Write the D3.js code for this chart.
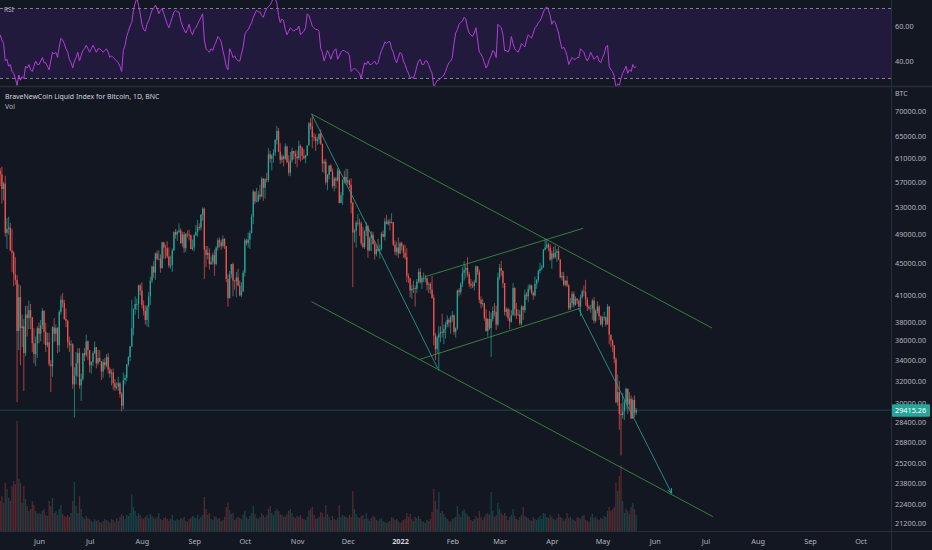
<!DOCTYPE html>
<html>
<head>
  <meta charset="utf-8">
  <title>BraveNewCoin Liquid Index for Bitcoin, 1D</title>
  <script src="https://cdn.jsdelivr.net/npm/d3@7"></script>
  <style>
    html, body { margin: 0; padding: 0; background: #131722; overflow: hidden; }
    svg { display: block; font-family: "Noto Sans", Roboto, sans-serif; }
  </style>
</head>
<body>
<script>
  // ---- data (daily, first candle 2021-05-09) ----
  const firstDay = "2021-05-09";
  const firstOpen = 58800;

  const closes = [
    // May 2021
    58200, 55800, 56700, 49150, 49700, 49900, 46700, 46400, 43600, 42900, 37000, 40800, 37300, 37500, 34700, 38800, 38400, 39300, 38500, 35700, 34600, 35700, 37300,
    // Jun
    36700, 37600, 39200, 36900, 35500, 35800, 33600, 33400, 37400, 36700, 37300, 35500, 39100, 40500, 40100, 38300, 38100, 35800, 35500, 35600, 31700, 32500, 33700, 34700, 31600, 32200, 34700, 34500, 35900, 35000,
    // Jul
    33500, 33800, 34700, 35300, 33700, 34200, 33900, 32900, 33800, 33500, 34300, 33100, 32700, 32800, 31800, 31400, 31500, 31800, 30800, 29800, 32100, 32300, 33600, 34300, 35400, 37300, 39400, 40000, 40000, 42200, 41600,
    // Aug
    39900, 39200, 38200, 39700, 40900, 42800, 44600, 43800, 46300, 45600, 45600, 44400, 47800, 47100, 47000, 45900, 44700, 44800, 46700, 49300, 48900, 49300, 49500, 47700, 48900, 47000, 49000, 48900, 48800, 46900, 47100,
    // Sep
    48800, 49300, 50000, 49900, 51800, 52700, 46800, 46100, 46400, 44900, 45200, 46100, 44900, 47100, 48100, 47800, 47300, 48300, 47300, 43000, 40700, 43600, 44900, 42800, 42700, 43200, 42200, 41000, 41500, 43800,
    // Oct
    48100, 47700, 48200, 49100, 51500, 55400, 53800, 53900, 54900, 54600, 57500, 56000, 57400, 57300, 61700, 60900, 61500, 62000, 64300, 66000, 62200, 60700, 61300, 60900, 63100, 60300, 58500, 60600, 62300, 61800, 61300,
    // Nov
    61000, 63200, 62900, 61400, 61000, 61500, 63300, 67500, 66900, 64900, 64800, 64100, 64400, 65500, 63600, 60100, 60400, 56900, 58100, 59700, 58700, 56300, 57500, 57200, 58900, 53600, 54800, 57300, 57800, 56900,
    // Dec
    57200, 56500, 53600, 49200, 49400, 50600, 50600, 50500, 47700, 47200, 49400, 50100, 46700, 48400, 48900, 47600, 46200, 46900, 46700, 46900, 49000, 48600, 50800, 50400, 50800, 50600, 50700, 47500, 46500, 47100, 46300,
    // Jan 2022
    47700, 47300, 46400, 45800, 43400, 43100, 41600, 41800, 41900, 41800, 42700, 43900, 42600, 43100, 43100, 43100, 42300, 42400, 41700, 40700, 36500, 35100, 36300, 36700, 36900, 36800, 37200, 37700, 38200, 37900, 38500,
    // Feb
    38700, 36900, 37300, 41600, 41400, 42400, 43800, 44100, 44400, 43600, 42400, 42200, 42100, 42600, 44600, 43900, 40500, 40000, 40100, 38400, 37000, 38300, 37300, 38300, 39200, 39100, 37700, 43200,
    // Mar
    44400, 44000, 42500, 39100, 39400, 38400, 38000, 38700, 41900, 39400, 38700, 38800, 37800, 39700, 39300, 41100, 40900, 41800, 42200, 41300, 41000, 42400, 42900, 44000, 44300, 44500, 46800, 47100, 47500, 47100, 45500,
    // Apr
    46300, 45800, 46400, 46600, 45500, 43200, 43400, 42300, 42800, 42200, 39500, 40100, 41200, 39900, 40600, 40400, 39700, 40800, 41500, 41400, 40500, 39700, 39500, 39500, 40400, 38100, 39200, 39700, 38600, 37700,
    // May 2022
    38500, 38500, 37700, 39700, 36600, 36000, 35500, 34100, 30100, 31000, 29100, 29000, 29300, 30100, 31300, 29900, 30400, 28700, 30300, 29200, 29415.26
  ];

  const highs = [
    59300, 59500, 57000, 58000, 51300, 51500, 50600, 49700, 46600, 45800, 43500, 42400, 42200, 38800, 38300, 39800, 39800, 40400, 40000, 38200, 37300, 36400, 37500,
    37900, 38200, 39500, 39300, 37900, 36800, 36800, 34000, 37500, 38400, 37700, 37400, 39300, 41000, 41300, 40500, 39500, 38200, 36400, 36000, 35700, 33300, 34800, 35200, 35200, 32700, 34700, 35200, 36600, 36000,
    35000, 33900, 34900, 35900, 35300, 35000, 35000, 33900, 34100, 34200, 34600, 34700, 33300, 33100, 33200, 32200, 31900, 32400, 31900, 31000, 32800, 32600, 33600, 34400, 35400, 40500, 39500, 40900, 40600, 42300, 42400,
    42600, 40400, 39800, 39900, 41400, 43300, 44700, 45300, 46400, 46700, 46700, 46200, 47900, 47900, 47500, 48000, 47100, 46000, 47000, 49300, 49700, 49500, 50500, 49800, 49300, 49300, 49100, 49500, 49600, 48900, 48200,
    49000, 50300, 51000, 50500, 51900, 52900, 52900, 47300, 47300, 47000, 45900, 46400, 46800, 47300, 48400, 48500, 48200, 48800, 48400, 47300, 43600, 44000, 44900, 45100, 42900, 43900, 44300, 42800, 42600, 44100,
    48400, 48300, 49200, 49500, 51900, 55700, 55300, 56000, 55500, 56500, 57800, 57600, 57600, 58500, 62800, 62300, 61700, 62600, 64500, 67000, 66600, 63700, 61700, 61500, 63700, 63300, 61500, 62100, 62900, 62300, 62400,
    62400, 64200, 63500, 63100, 62600, 61600, 63300, 67700, 68500, 68900, 65600, 65400, 64900, 65500, 66300, 63600, 60800, 60900, 58300, 59800, 60000, 59200, 57800, 57800, 59300, 59100, 55300, 57400, 58800, 59200,
    59100, 57400, 57600, 53800, 49700, 50900, 51900, 51200, 50800, 50000, 49500, 50700, 50300, 48600, 49400, 49300, 48000, 47300, 48300, 47500, 49300, 49500, 51300, 51800, 51100, 51200, 52000, 50700, 48100, 47900, 48500,
    47900, 47900, 47500, 47500, 47000, 43700, 43100, 42300, 42800, 42200, 43000, 44300, 44400, 43400, 43800, 43500, 43200, 42600, 42600, 43400, 41100, 36800, 36500, 37500, 37500, 38900, 37700, 38000, 38700, 38400, 38700,
    39200, 38800, 37400, 41700, 41900, 42600, 44500, 45300, 44800, 45800, 43900, 43000, 42700, 42900, 44700, 44600, 44200, 40900, 40600, 40100, 39400, 38400, 39200, 39000, 39700, 40100, 39800, 43800,
    44900, 45300, 44100, 42500, 39600, 39600, 39400, 39300, 42500, 42000, 40100, 39400, 39300, 39900, 39800, 41700, 41400, 42300, 42400, 42300, 41500, 43300, 43000, 44200, 45100, 44800, 46900, 48200, 48100, 47700, 47600,
    46700, 47200, 47400, 46900, 47200, 45500, 43900, 43900, 42800, 43400, 42400, 40700, 41500, 41500, 40900, 40700, 40500, 41100, 41700, 42200, 42900, 40800, 39900, 39900, 40600, 40800, 39400, 40300, 39900, 38700,
    38600, 39100, 38600, 40000, 39800, 36600, 36100, 35500, 34300, 32600, 32000, 30000, 30900, 30300, 31400, 31300, 31000, 30700, 30500, 30700, 29600
  ];

  const lows = [
    56300, 53500, 54000, 48600, 46900, 48900, 46600, 43900, 42100, 42300, 30100, 35000, 33500, 35300, 31100, 34400, 36400, 37200, 37200, 34800, 33700, 33400, 34200,
    35700, 35900, 37200, 35600, 34800, 35300, 33400, 31000, 32400, 35800, 35900, 34700, 34800, 38800, 39600, 38200, 37400, 35200, 34800, 33400, 31300, 28800, 31700, 32400, 31300, 30200, 32000, 33900, 34300, 34000,
    32800, 32700, 33400, 34600, 33200, 33500, 33800, 32100, 32300, 33100, 33300, 32700, 32300, 31600, 31200, 31100, 31200, 31100, 30500, 29300, 29500, 31700, 32000, 33400, 33900, 35300, 36500, 38800, 39300, 38300, 41000,
    39500, 38700, 37700, 37500, 37400, 39900, 42500, 43100, 42900, 45400, 45400, 43800, 44300, 45600, 45600, 45700, 44400, 44300, 43900, 46700, 48300, 48000, 49100, 47600, 47200, 46400, 46500, 48500, 48100, 46900, 46700,
    46600, 48700, 48600, 49500, 49500, 50900, 43000, 44500, 45500, 44200, 44800, 44800, 43400, 44700, 46700, 47100, 46800, 47100, 46900, 42600, 39700, 40600, 43100, 40900, 41700, 40800, 42100, 40900, 40800, 41400,
    43300, 47400, 47100, 46900, 49100, 50400, 53400, 53700, 53700, 54100, 54500, 53900, 54300, 56900, 56900, 60200, 58900, 60200, 61400, 63500, 62100, 60000, 60200, 59600, 60700, 60100, 58000, 57900, 60200, 60800, 60000,
    59400, 60700, 60400, 60700, 60800, 60100, 61400, 63300, 66300, 62800, 64100, 62300, 63400, 63600, 63400, 58600, 58400, 56500, 55600, 57400, 58600, 55900, 55400, 55900, 57000, 53500, 53600, 53300, 56700, 56500,
    56500, 55900, 52000, 42000, 47800, 47100, 50100, 48700, 47400, 47000, 46900, 48700, 45700, 46600, 46600, 47500, 45500, 45900, 46500, 45600, 46700, 48500, 48100, 50400, 50200, 49500, 50500, 47300, 46100, 46000, 45700,
    46200, 46700, 45700, 45500, 42600, 42500, 40800, 40600, 41300, 39700, 41300, 42500, 42400, 41800, 42600, 42600, 41600, 41300, 41200, 40600, 35500, 34000, 34700, 33000, 35800, 36300, 35600, 36200, 37400, 37400, 36700,
    38000, 36600, 36300, 37100, 40900, 41100, 42000, 42800, 43100, 43300, 42000, 41800, 41900, 41600, 42500, 43500, 40100, 39500, 39700, 38100, 36900, 36400, 37100, 34300, 38000, 38600, 37100, 37500,
    42900, 43400, 41900, 38700, 38600, 38100, 37200, 37900, 38700, 38600, 38300, 38700, 37600, 37600, 38200, 39000, 40500, 40200, 41500, 41100, 40500, 40900, 41800, 42600, 43700, 44100, 44400, 46700, 46900, 46600, 45300,
    44300, 45600, 45600, 45200, 45400, 43100, 42800, 42100, 42100, 42000, 39300, 39300, 39600, 39600, 39800, 40000, 39600, 38600, 40600, 40900, 39800, 39200, 39300, 39000, 38200, 37800, 37900, 38900, 38200, 37600,
    37400, 38100, 37500, 37700, 35600, 35300, 34800, 33700, 30000, 29800, 27800, 25800, 28700, 28600, 29500, 29100, 29500, 28700, 28700, 28800, 29000
  ];

  const volumes = [
    30, 35, 28, 48, 42, 33, 30, 45, 50, 47, 110, 52, 48, 28, 45, 32, 25, 20, 22, 30, 26, 20, 17,
    18, 17, 20, 22, 16, 15, 30, 25, 33, 18, 20, 16, 22, 26, 17, 15, 14, 16, 14, 18, 30, 49, 25, 18, 35, 22, 14, 12, 15, 13,
    12, 10, 9, 12, 10, 11, 9, 8, 10, 12, 11, 10, 8, 12, 11, 9, 13, 10, 14, 17, 15, 12, 16, 15, 18, 37, 24, 20, 15, 18, 16,
    13, 12, 14, 16, 13, 17, 15, 13, 12, 14, 18, 12, 11, 13, 14, 12, 10, 12, 16, 11, 10, 12, 11, 13, 12, 14, 10, 9, 12, 13, 15,
    14, 13, 16, 12, 14, 16, 34, 22, 16, 18, 12, 11, 15, 14, 12, 13, 10, 11, 14, 24, 29, 21, 17, 18, 11, 13, 14, 13, 12, 16,
    20, 14, 12, 15, 18, 25, 17, 13, 12, 14, 18, 16, 14, 16, 22, 25, 18, 16, 20, 22, 20, 17, 16, 14, 15, 17, 20, 22, 18, 14, 13,
    15, 14, 16, 13, 12, 11, 14, 20, 22, 24, 16, 12, 13, 14, 19, 18, 14, 26, 17, 14, 11, 15, 12, 11, 13, 26, 14, 16, 15, 14,
    13, 16, 14, 40, 22, 17, 14, 13, 15, 16, 12, 18, 12, 10, 13, 15, 14, 11, 10, 12, 13, 10, 9, 8, 9, 10, 14, 13, 11, 12, 10,
    8, 9, 11, 12, 18, 14, 17, 12, 10, 14, 13, 15, 12, 10, 9, 8, 11, 10, 12, 19, 42, 30, 22, 39, 18, 20, 17, 14, 12, 10, 9,
    12, 13, 14, 25, 17, 14, 20, 22, 18, 16, 14, 11, 10, 12, 15, 13, 20, 14, 11, 14, 17, 18, 16, 39, 20, 14, 16, 28,
    22, 18, 16, 18, 15, 11, 14, 16, 22, 15, 12, 11, 14, 16, 24, 15, 14, 13, 11, 10, 14, 12, 11, 13, 15, 12, 18, 17, 14, 13, 16,
    14, 12, 11, 13, 17, 14, 13, 10, 12, 18, 13, 14, 12, 11, 10, 14, 13, 12, 15, 16, 11, 10, 9, 14, 17, 13, 14, 12, 11, 13,
    12, 15, 14, 20, 24, 20, 22, 24, 48, 40, 55, 66, 30, 18, 22, 20, 17, 24, 28, 22, 16
  ];

  const rsiValues = [
    55, 52, 50, 40, 41, 37, 38, 34, 33, 30, 26, 32, 29, 31, 30, 37, 36, 38, 35, 34, 37, 40, 38,
    38, 40, 42, 39, 39, 37, 35, 40, 45, 44, 45, 42, 48, 53, 52, 50, 47, 45, 41, 39, 36, 40, 42, 45, 40, 43, 46, 47, 49, 47,
    45, 47, 49, 47, 45, 47, 47, 46, 45, 46, 47, 45, 42, 43, 42, 41, 40, 39, 37, 34, 46, 49, 54, 57, 60, 62, 69, 73, 76, 72, 67,
    61, 58, 57, 61, 63, 66, 69, 70, 72, 70, 67, 69, 70, 67, 64, 61, 59, 62, 65, 68, 69, 68, 68, 63, 60, 58, 56, 58, 61, 57, 55,
    58, 59, 61, 63, 65, 67, 52, 47, 46, 45, 47, 46, 49, 51, 54, 53, 51, 46, 42, 37, 35, 47, 45, 42, 43, 41, 40, 40, 44, 48,
    55, 57, 58, 60, 62, 65, 67, 69, 68, 68, 66, 65, 68, 70, 71, 72, 74, 76, 76, 73, 66, 62, 64, 63, 58, 55, 57, 59, 58, 57, 58,
    58, 60, 55, 56, 57, 59, 67, 66, 63, 60, 59, 58, 58, 57, 47, 45, 40, 43, 46, 44, 41, 44, 46, 47, 41, 43, 45, 46, 46, 45,
    45, 43, 34, 35, 36, 35, 34, 33, 30, 35, 39, 38, 40, 38, 38, 39, 40, 38, 39, 43, 46, 48, 51, 50, 51, 51, 47, 45, 41, 39, 42,
    45, 44, 40, 38, 35, 33, 30, 31, 30, 33, 37, 40, 41, 38, 38, 40, 40, 38, 35, 33, 25, 27, 29, 29, 30, 31, 32, 34, 37, 39, 40,
    42, 50, 56, 58, 61, 62, 63, 65, 64, 59, 56, 55, 54, 56, 59, 52, 45, 44, 42, 39, 36, 38, 41, 43, 46, 45, 42, 61,
    60, 59, 55, 46, 46, 45, 47, 54, 50, 47, 46, 45, 47, 50, 49, 48, 52, 55, 54, 53, 56, 59, 60, 62, 63, 65, 68, 70, 71, 69, 66,
    61, 63, 62, 59, 56, 51, 47, 48, 46, 43, 38, 40, 42, 41, 41, 42, 42, 47, 46, 45, 42, 40, 42, 45, 43, 41, 42, 43, 40, 39,
    42, 44, 48, 49, 37, 35, 34, 31, 25, 27, 26, 30, 33, 35, 37, 33, 35, 34, 38, 36, 37
  ];

  const priceTicks = [70000, 65000, 61000, 57000, 53000, 49000, 45000, 41000, 38000, 36000, 34000, 32000, 30000, 28400, 26800, 25200, 23800, 22400, 21200];
  const rsiTicks = [60, 40];
  const rsiLevels = [70, 30];
  const monthTicks = ["2021-06-01", "2021-07-01", "2021-08-01", "2021-09-01", "2021-10-01", "2021-11-01", "2021-12-01", "2022-01-01",
    "2022-02-01", "2022-03-01", "2022-04-01", "2022-05-01", "2022-06-01", "2022-07-01", "2022-08-01", "2022-09-01", "2022-10-01"];
  const monthLabels = ["Jun", "Jul", "Aug", "Sep", "Oct", "Nov", "Dec", "2022", "Feb", "Mar", "Apr", "May", "Jun", "Jul", "Aug", "Sep", "Oct"];

  // drawn lines: [start date, start price, end date, end price]
  const channelLines = [
    ["2021-11-09T14:00Z", 69330, "2022-07-04T22:00Z", 37320],
    ["2021-11-09T14:00Z", 40270, "2022-07-05T12:00Z", 21610],
    ["2022-01-12T19:00Z", 34080, "2022-04-17T17:00Z", 39510],
    ["2022-01-15T19:00Z", 43290, "2022-04-19T14:00Z", 49800]
  ];
  const impulseLines = [
    ["2021-11-09T14:00Z", 69330, "2022-01-23T07:00Z", 33210],
    ["2022-04-16T17:00Z", 39510, "2022-06-11T00:00Z", 23130]
  ];

  // ---- layout ----
  const W = 932, H = 550;
  const plotRight = 891;
  const rsiTop = 0, rsiBottom = 86;
  const mainTop = 87, mainBottom = 531;

  const upColor = "#26a69a", downColor = "#ef5350";
  const axisText = "#b2b5be";
  const gridLine = "#2a2e39";

  const day0 = new Date(firstDay + "T00:00Z");
  const dayDate = i => new Date(day0.getTime() + i * 864e5);

  const candles = closes.map((c, i) => {
    const o = i === 0 ? firstOpen : closes[i - 1];
    return {
      date: dayDate(i),
      open: o,
      close: c,
      high: Math.max(highs[i], o, c),
      low: Math.min(lows[i], o, c),
      volume: volumes[i],
      rsi: rsiValues[i]
    };
  });

  const x = d3.scaleUtc()
    .domain([day0, new Date("2022-10-01T00:00Z")])
    .range([0.2, 0.2 + 1.687 * 510]);

  const y = d3.scaleLog()
    .domain([21200, 70000])
    .range([523.3, 110.7]);

  const yVol = d3.scaleLinear()
    .domain([0, 110])
    .range([mainBottom, 421]);

  const yRsi = d3.scaleLinear()
    .domain([30, 70])
    .range([78.5, 8.5]);

  const svg = d3.select("body").append("svg")
    .attr("width", W)
    .attr("height", H);

  svg.append("rect").attr("width", W).attr("height", H).attr("fill", "#131722");

  const defs = svg.append("defs");
  defs.append("clipPath").attr("id", "clipMain")
    .append("rect").attr("x", 0).attr("y", mainTop).attr("width", plotRight).attr("height", mainBottom - mainTop);
  defs.append("clipPath").attr("id", "clipRsi")
    .append("rect").attr("x", 0).attr("y", rsiTop).attr("width", plotRight).attr("height", rsiBottom - rsiTop);
  defs.append("marker")
    .attr("id", "arrow")
    .attr("viewBox", "0 0 10 10")
    .attr("refX", 9).attr("refY", 5)
    .attr("markerWidth", 6).attr("markerHeight", 6)
    .attr("orient", "auto")
    .append("path")
    .attr("d", "M0,1 L9,5 L0,9")
    .attr("fill", "none")
    .attr("stroke", "#26a69a")
    .attr("stroke-width", 1.6);

  // ---- RSI pane ----
  const rsiG = svg.append("g").attr("clip-path", "url(#clipRsi)");

  rsiG.append("rect")
    .attr("x", 0)
    .attr("y", yRsi(70))
    .attr("width", plotRight)
    .attr("height", yRsi(30) - yRsi(70))
    .attr("fill", "#221a3d");

  rsiG.selectAll(".level")
    .data(rsiLevels)
    .enter()
    .append("line")
    .attr("x1", 0).attr("x2", plotRight)
    .attr("y1", d => yRsi(d)).attr("y2", d => yRsi(d))
    .attr("stroke", "#9a9cab")
    .attr("stroke-width", 0.8)
    .attr("stroke-dasharray", "3,3");

  rsiG.append("path")
    .datum(candles)
    .attr("fill", "none")
    .attr("stroke", "#b03fd6")
    .attr("stroke-width", 1)
    .attr("d", d3.line().x(d => x(d.date)).y(d => yRsi(d.rsi)));

  svg.append("text")
    .attr("x", 4).attr("y", 12)
    .attr("fill", axisText)
    .attr("font-size", 6.5)
    .text("RSI");

  const rsiAxis = d3.axisRight(yRsi).tickValues(rsiTicks).tickSize(0).tickPadding(4).tickFormat(d3.format(".2f"));
  svg.append("g")
    .attr("transform", "translate(" + plotRight + ",0)")
    .call(rsiAxis)
    .call(g => g.select(".domain").remove())
    .call(g => g.selectAll("text").attr("fill", axisText).attr("font-size", 7.3).attr("font-family", "'Noto Sans', sans-serif"));

  // ---- main pane ----
  const mainG = svg.append("g").attr("clip-path", "url(#clipMain)");

  // volume
  mainG.selectAll(".vol")
    .data(candles)
    .enter()
    .append("rect")
    .attr("x", d => x(d.date) - 0.65)
    .attr("width", 1.3)
    .attr("y", d => yVol(d.volume))
    .attr("height", d => mainBottom - yVol(d.volume))
    .attr("fill", d => d.close >= d.open ? upColor : downColor)
    .attr("opacity", 0.3);

  // last price line
  const last = candles[candles.length - 1];
  mainG.append("line")
    .attr("x1", 0).attr("x2", plotRight)
    .attr("y1", y(last.close)).attr("y2", y(last.close))
    .attr("stroke", upColor)
    .attr("stroke-opacity", 0.45)
    .attr("stroke-width", 0.8);

  // wicks
  mainG.selectAll(".wick")
    .data(candles)
    .enter()
    .append("line")
    .attr("x1", d => x(d.date)).attr("x2", d => x(d.date))
    .attr("y1", d => y(d.high)).attr("y2", d => y(d.low))
    .attr("stroke", d => d.close >= d.open ? upColor : downColor)
    .attr("stroke-width", 0.7);

  // bodies
  mainG.selectAll(".body")
    .data(candles)
    .enter()
    .append("rect")
    .attr("x", d => x(d.date) - 0.65)
    .attr("width", 1.3)
    .attr("y", d => y(Math.max(d.open, d.close)))
    .attr("height", d => Math.max(0.8, Math.abs(y(d.open) - y(d.close))))
    .attr("fill", d => d.close >= d.open ? upColor : downColor);

  // drawings
  const toPts = l => [[x(new Date(l[0])), y(l[1])], [x(new Date(l[2])), y(l[3])]];

  mainG.selectAll(".channel")
    .data(channelLines)
    .enter()
    .append("path")
    .attr("d", l => d3.line()(toPts(l)))
    .attr("stroke", "#4caf50")
    .attr("stroke-opacity", 0.75)
    .attr("stroke-width", 0.9)
    .attr("fill", "none");

  mainG.selectAll(".impulse")
    .data(impulseLines)
    .enter()
    .append("path")
    .attr("d", l => d3.line()(toPts(l)))
    .attr("stroke", "#26a69a")
    .attr("stroke-opacity", 0.9)
    .attr("stroke-width", 0.9)
    .attr("fill", "none")
    .attr("marker-end", (l, i) => i === impulseLines.length - 1 ? "url(#arrow)" : null);

  // legend text
  svg.append("text")
    .attr("x", 5).attr("y", 98.5)
    .attr("fill", "#d1d4dc")
    .attr("font-size", 6.9)
    .text("BraveNewCoin Liquid Index for Bitcoin, 1D, BNC");
  svg.append("text")
    .attr("x", 5).attr("y", 109)
    .attr("fill", axisText)
    .attr("font-size", 6.9)
    .text("Vol");

  // ---- separators ----
  svg.append("line").attr("x1", 0).attr("x2", W).attr("y1", 86.5).attr("y2", 86.5).attr("stroke", gridLine).attr("stroke-width", 1.5);
  svg.append("line").attr("x1", 0).attr("x2", W).attr("y1", mainBottom + 0.5).attr("y2", mainBottom + 0.5).attr("stroke", gridLine);
  svg.append("line").attr("x1", plotRight + 0.5).attr("x2", plotRight + 0.5).attr("y1", 0).attr("y2", H).attr("stroke", gridLine);

  // ---- price axis ----
  svg.append("text")
    .attr("x", plotRight + 4).attr("y", 94)
    .attr("dy", "0.32em")
    .attr("fill", axisText)
    .attr("font-size", 7)
    .text("BTC");

  const priceAxis = d3.axisRight(y).tickValues(priceTicks).tickSize(0).tickPadding(4).tickFormat(d3.format(".2f"));
  svg.append("g")
    .attr("transform", "translate(" + plotRight + ",0)")
    .call(priceAxis)
    .call(g => g.select(".domain").remove())
    .call(g => g.selectAll("text").attr("fill", axisText).attr("font-size", 7.3).attr("font-family", "'Noto Sans', sans-serif"));

  // last price badge (covers the lower half of the 30000 label, as on the original)
  const badgeY = y(last.close);
  svg.append("rect")
    .attr("x", plotRight + 1).attr("y", badgeY - 6)
    .attr("width", 38).attr("height", 12.5)
    .attr("rx", 1)
    .attr("fill", upColor);
  svg.append("text")
    .attr("x", plotRight + 4).attr("y", badgeY + 0.3)
    .attr("dy", "0.34em")
    .attr("fill", "#ffffff")
    .attr("font-size", 7.3)
    .text(d3.format(".2f")(last.close));

  // ---- time axis ----
  const timeAxis = d3.axisBottom(x)
    .tickValues(monthTicks.map(d => new Date(d + "T00:00Z")))
    .tickSize(0)
    .tickPadding(8)
    .tickFormat((d, i) => monthLabels[i]);
  svg.append("g")
    .attr("transform", "translate(0," + mainBottom + ")")
    .call(timeAxis)
    .call(g => g.select(".domain").remove())
    .call(g => g.selectAll("text")
      .attr("fill", (d, i) => monthLabels[i] === "2022" ? "#d1d4dc" : axisText)
      .attr("font-weight", (d, i) => monthLabels[i] === "2022" ? "bold" : null)
      .attr("font-size", 7.3)
      .attr("font-family", "'Noto Sans', sans-serif"));
</script>
</body>
</html>
